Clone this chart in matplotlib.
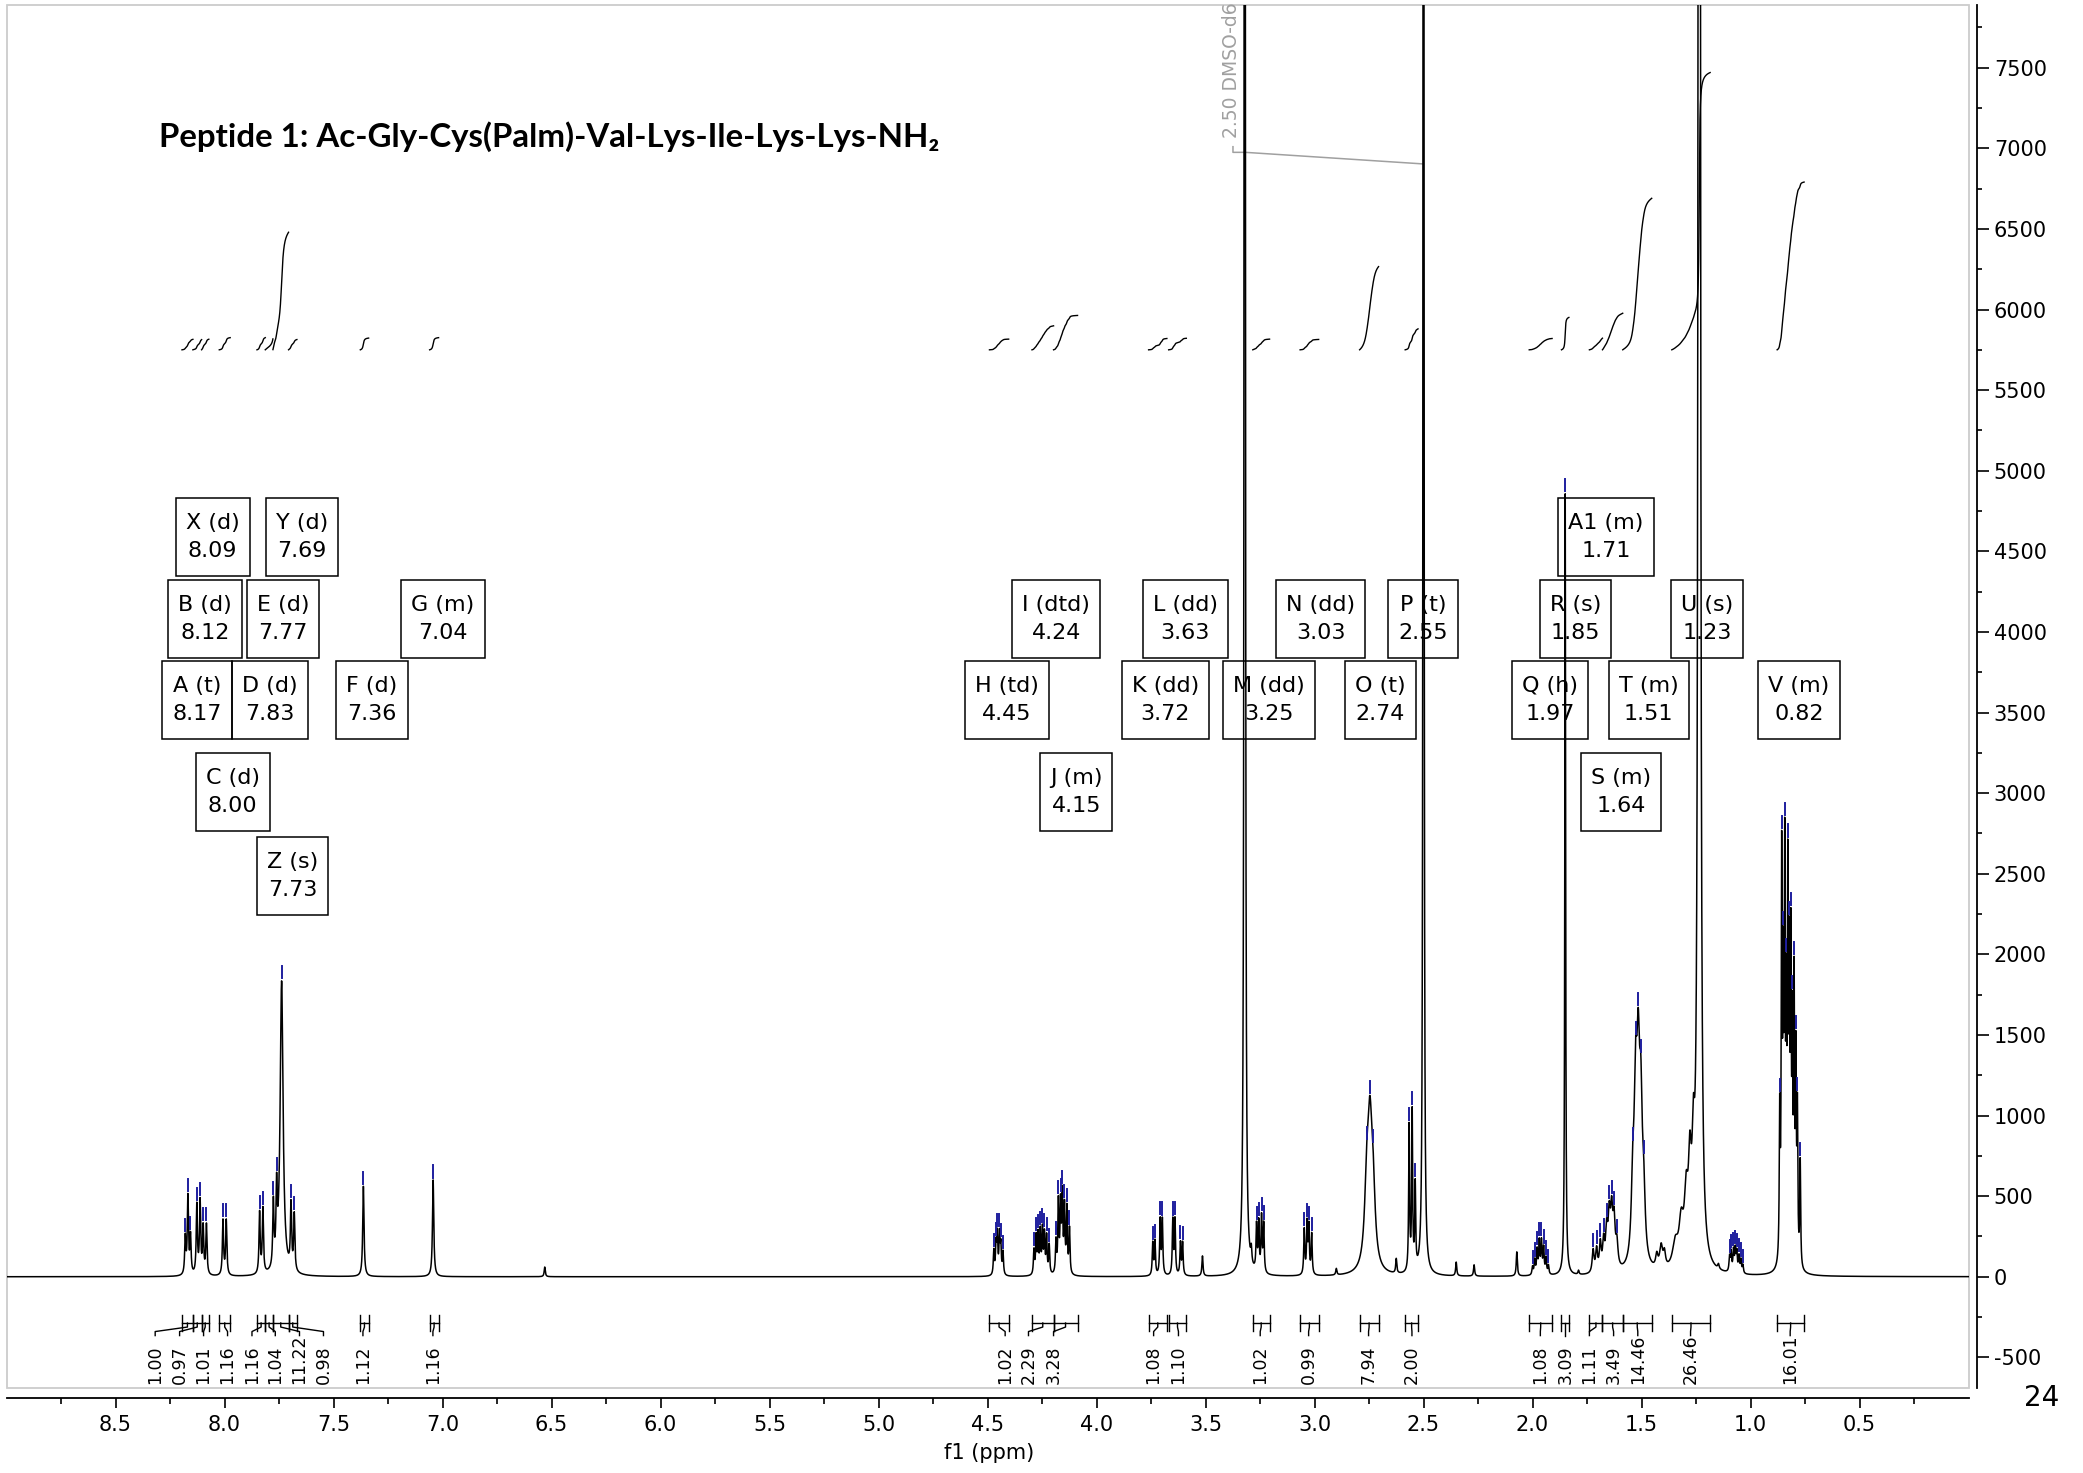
import numpy as np
import matplotlib.pyplot as plt
from matplotlib.ticker import FixedLocator
from matplotlib.patches import Rectangle

plt.rcParams['font.family'] = ['DejaVu Sans']
plt.rcParams['axes.unicode_minus'] = False

W, H = 2083, 1473

# ---- picked lines (ppm, height, half-width) ----
# amide / NH region
nh_ppm = [8.180, 8.168, 8.156, 8.127, 8.112, 8.098, 8.083, 8.007, 7.992,
          7.839, 7.824, 7.776, 7.761, 7.738, 7.695, 7.680, 7.363, 7.043]
nh_h = [230, 480, 235, 430, 450, 290, 310, 340, 340,
        380, 400, 400, 430, 1820, 400, 350, 560, 600]
nh_hw = [0.0032, 0.0032, 0.0032, 0.0032, 0.0032, 0.0032, 0.0032, 0.0032, 0.0032,
         0.0032, 0.0032, 0.0032, 0.0032, 0.008, 0.0032, 0.0032, 0.0035, 0.0035]

# alpha / side chain CH region (H..N)
ca_ppm = [4.471, 4.461, 4.455, 4.445, 4.439, 4.429,
          4.287, 4.277, 4.268, 4.258, 4.248, 4.239, 4.229, 4.217,
          4.186, 4.175, 4.165, 4.157, 4.147, 4.136, 4.124,
          3.742, 3.732, 3.708, 3.698, 3.650, 3.640, 3.615, 3.605,
          3.266, 3.256, 3.243, 3.233,
          3.047, 3.034, 3.026, 3.013]
ca_h = [150, 180, 240, 240, 170, 140,
        150, 230, 240, 260, 270, 240, 230, 180,
        200, 440, 410, 470, 400, 400, 280,
        200, 210, 340, 340, 340, 340, 200, 200,
        280, 300, 340, 300,
        280, 310, 290, 250]
ca_hw = 0.0028

# aliphatic region (O, P, Q, R, A1, S, T, 1.07 group, V)
al_ppm = [2.760, 2.746, 2.732,
          2.566, 2.552, 2.538,
          2.000, 1.990, 1.979, 1.969, 1.959, 1.949, 1.938, 1.927,
          1.850,
          1.722, 1.706, 1.689, 1.674,
          1.660, 1.648, 1.637, 1.626, 1.613,
          1.540, 1.527, 1.515, 1.503, 1.490,
          1.096, 1.089, 1.078, 1.070, 1.063, 1.053, 1.044, 1.035,
          0.866, 0.857, 0.850, 0.843, 0.836, 0.829, 0.822, 0.815,
          0.808, 0.800, 0.792, 0.785, 0.772]
al_h = [450, 750, 430,
        900, 980, 520,
        50, 90, 150, 200, 200, 160, 100, 55,
        4850,
        140, 140, 170, 170,
        230, 300, 320, 280, 150,
        420, 940, 1040, 830, 360,
        90, 120, 130, 135, 120, 100, 80, 50,
        880, 2420, 1550, 2350, 1350, 2200, 1650, 1800,
        1300, 1650, 1200, 900, 650]
al_hw = [0.012, 0.012, 0.012,
         0.0025, 0.0025, 0.0025,
         0.003, 0.003, 0.003, 0.003, 0.003, 0.003, 0.003, 0.003,
         0.0022,
         0.005, 0.005, 0.005, 0.005,
         0.006, 0.006, 0.006, 0.006, 0.006,
         0.008, 0.008, 0.008, 0.008, 0.008,
         0.003, 0.003, 0.003, 0.003, 0.003, 0.003, 0.003, 0.003,
         0.0024, 0.0024, 0.0024, 0.0024, 0.0024, 0.0024, 0.0024, 0.0024,
         0.0024, 0.0024, 0.0024, 0.0024, 0.0024]

# unpicked lines: solvents, impurities, CH2 envelope of palmitoyl
other_ppm = [6.531, 3.514, 3.320, 3.290, 2.900, 2.625, 2.500, 2.350, 2.268, 2.072,
             1.789, 1.430, 1.410, 1.395, 1.345, 1.318, 1.295, 1.278, 1.262, 1.235, 1.147]
other_h = [60, 125, 30000, 90, 40, 90, 25000, 85, 70, 150,
           25, 80, 140, 90, 150, 250, 380, 520, 550, 50000, 30]
other_hw = [0.003, 0.003, 0.0018, 0.003, 0.003, 0.003, 0.0016, 0.003, 0.003, 0.003,
            0.003, 0.006, 0.008, 0.006, 0.015, 0.012, 0.010, 0.008, 0.007, 0.0025, 0.004]

# ---- integrals ----
int_hi = [8.195, 8.145, 8.105, 8.024, 7.851, 7.813, 7.778, 7.706, 7.377, 7.059,
          4.491, 4.296, 4.197, 3.761, 3.669, 3.283, 3.066, 2.793, 2.584,
          2.015, 1.867, 1.739, 1.679, 1.586, 1.361, 0.878]
int_lo = [8.145, 8.105, 8.072, 7.974, 7.813, 7.778, 7.706, 7.668, 7.339, 7.018,
          4.403, 4.197, 4.087, 3.677, 3.588, 3.206, 2.981, 2.706, 2.525,
          1.910, 1.833, 1.679, 1.586, 1.453, 1.185, 0.754]
int_val = [1.00, 0.97, 1.01, 1.16, 1.16, 1.04, 11.22, 0.98, 1.12, 1.16,
           1.02, 2.29, 3.28, 1.08, 1.10, 1.02, 0.99, 7.94, 2.00,
           1.08, 3.09, 1.11, 3.49, 14.46, 26.46, 16.01]

# ---- multiplet labels ----
mult_name = ['A', 'B', 'C', 'D', 'E', 'F', 'G', 'H', 'I', 'J', 'K', 'L', 'M',
             'N', 'O', 'P', 'Q', 'R', 'S', 'T', 'U', 'V', 'X', 'Y', 'Z', 'A1']
mult_type = ['t', 'd', 'd', 'd', 'd', 'd', 'm', 'td', 'dtd', 'm', 'dd', 'dd', 'dd',
             'dd', 't', 't', 'h', 's', 'm', 'm', 's', 'm', 'd', 'd', 's', 'm']
mult_shift = [8.17, 8.12, 8.00, 7.83, 7.77, 7.36, 7.04, 4.45, 4.24, 4.15, 3.72, 3.63, 3.25,
              3.03, 2.74, 2.55, 1.97, 1.85, 1.64, 1.51, 1.23, 0.82, 8.09, 7.69, 7.73, 1.71]

# ---- layout (annotation placement, data coords) ----
box_x = [8.127, 8.090, 7.963, 7.792, 7.731, 7.323, 6.998, 4.410, 4.184, 4.093, 3.685, 3.593, 3.210,
         2.972, 2.698, 2.503, 1.918, 1.802, 1.595, 1.467, 1.198, 0.778, 8.054, 7.646, 7.688, 1.662]
box_y = [3577, 4080, 3009, 3577, 4080, 3577, 4080, 3577, 4080, 3009, 3577, 4080, 3577,
         4080, 3577, 4080, 3577, 4080, 3009, 3577, 4080, 3577, 4591, 4591, 2489, 4591]
int_lab_x = [8.318, 8.206, 8.096, 7.986, 7.874, 7.767, 7.656, 7.546, 7.365, 7.044,
             4.419, 4.312, 4.197, 3.738, 3.624, 3.249, 3.027, 2.752, 2.553,
             1.964, 1.850, 1.739, 1.628, 1.517, 1.275, 0.818]

# ---- build spectrum ----
ppm = np.linspace(9.0, 0.0, 45001)
spec = np.zeros_like(ppm)
picked = []
for p_list, h_list, w_list, pick in [(nh_ppm, nh_h, nh_hw, True),
                                     (ca_ppm, ca_h, [ca_hw] * len(ca_ppm), True),
                                     (al_ppm, al_h, al_hw, True),
                                     (other_ppm, other_h, other_hw, False)]:
    for p, h, w in zip(p_list, h_list, w_list):
        spec += h / (1 + ((ppm - p) / w) ** 2)
        if pick:
            picked.append(p)

fig = plt.figure(figsize=(W / 100, H / 100), dpi=100)
ax = fig.add_axes([6.5 / W, (H - 1388.3) / H, 1962 / W, 1383.3 / H])
ax.set_xlim(9.0, 0.0)
ax.set_ylim(-692, 7889)

ax.plot(ppm, spec, color='black', lw=1.1, zorder=3)

# peak picking marks
ytop = 7889
for p in picked:
    v = spec[np.argmin(np.abs(ppm - p))]
    if v + 90 < ytop:
        ax.plot([p, p], [v + 15, v + 90], color='#1e1e9e', lw=1.4, zorder=4)

# integral curves
int_base, int_scale = 5750, 65
for hi, lo, val in zip(int_hi, int_lo, int_val):
    m = (ppm <= hi) & (ppm >= lo)
    c = np.cumsum(spec[m])
    c = c / c[-1]
    ax.plot(ppm[m], int_base + c * val * int_scale, color='black', lw=1.0, zorder=3)

# integral brackets and labels
yb = -287
for hi, lo, val, lx in zip(int_hi, int_lo, int_val, int_lab_x):
    ax.plot([hi, lo], [yb, yb], color='black', lw=1.0)
    ax.plot([hi, hi], [yb - 50, yb + 50], color='black', lw=1.0)
    ax.plot([lo, lo], [yb - 50, yb + 50], color='black', lw=1.0)
    cx = (hi + lo) / 2
    ax.plot([cx, cx, lx, lx], [yb, -312, -340, -365], color='black', lw=1.0)
    ax.text(lx, -668, f'{val:.2f}', rotation=90, ha='center', va='bottom', fontsize=12.5)

# multiplet labels (boxes drawn after layout is known)
box_texts = []
for n, t, s, bx, by in zip(mult_name, mult_type, mult_shift, box_x, box_y):
    box_texts.append(ax.text(bx, by, f'{n} ({t})\n{s:.2f}', ha='center', va='center',
                             multialignment='center', fontsize=16, linespacing=1.5, zorder=2))

# solvent label
ax.text(3.381, 7063, '2.50 DMSO-d6', rotation=90, ha='center', va='bottom',
        fontsize=13.5, color='#a0a0a0', clip_on=False)
ax.plot([3.374, 3.374, 3.317, 2.50], [7010, 6975, 6975, 6903], color='#a0a0a0', lw=1.1)

# frame and axes
ax.add_patch(Rectangle((0, 0), 1, 1, transform=ax.transAxes, fill=False,
                       ec='#cccccc', lw=1.3, clip_on=False, zorder=1))
for side in ['top', 'left']:
    ax.spines[side].set_visible(False)
ax.spines['right'].set_position(('outward', 6.1))
ax.spines['bottom'].set_position(('outward', 7.0))
for side in ['right', 'bottom']:
    ax.spines[side].set_linewidth(1.3)
    ax.spines[side].set_color('black')

ax.yaxis.tick_right()
ax.xaxis.set_major_locator(FixedLocator(np.arange(0.5, 8.51, 0.5)))
ax.xaxis.set_minor_locator(FixedLocator(np.arange(0.25, 8.8, 0.5)))
ax.yaxis.set_major_locator(FixedLocator(np.arange(-500, 7501, 500)))
ax.yaxis.set_minor_locator(FixedLocator(np.arange(-250, 7800, 500)))
ax.tick_params(axis='x', which='major', length=7.2, width=1.2, labelsize=15, pad=5)
ax.tick_params(axis='x', which='minor', length=4.3, width=1.2)
ax.tick_params(axis='y', which='major', length=8.6, width=1.2, labelsize=15, pad=3.5)
ax.tick_params(axis='y', which='minor', length=3.8, width=1.2)

fig.text(989.6 / W, 1 - 1453 / H, 'f1 (ppm)', ha='center', va='center', fontsize=15)
fig.text(2042 / W, 1 - 1398 / H, '24', ha='center', va='center', fontsize=20)

title = fig.text(159 / W, 1 - 137 / H, 'Peptide 1: Ac-Gly-Cys(Palm)-Val-Lys-Ile-Lys-Lys-NH\u2082',
                 ha='left', va='center', fontsize=26, fontweight='bold',
                 family=['Lato', 'DejaVu Sans'])
fig.canvas.draw()
bw = title.get_window_extent().width
title.set_fontsize(26 * 781 / bw)

# boxes around multiplet labels: fixed height, width from text
inv = ax.transData.inverted()
for txt in box_texts:
    bb = txt.get_window_extent()
    cx, cy = (bb.x0 + bb.x1) / 2, (bb.y0 + bb.y1) / 2
    hw, hh = bb.width / 2 + 10, 39
    x0, y0 = inv.transform((cx - hw, cy - hh))
    x1, y1 = inv.transform((cx + hw, cy + hh))
    ax.add_patch(Rectangle((x0, y0), x1 - x0, y1 - y0, fill=False, ec='black', lw=1.1, zorder=2))

fig.savefig('out.png', dpi=100)
